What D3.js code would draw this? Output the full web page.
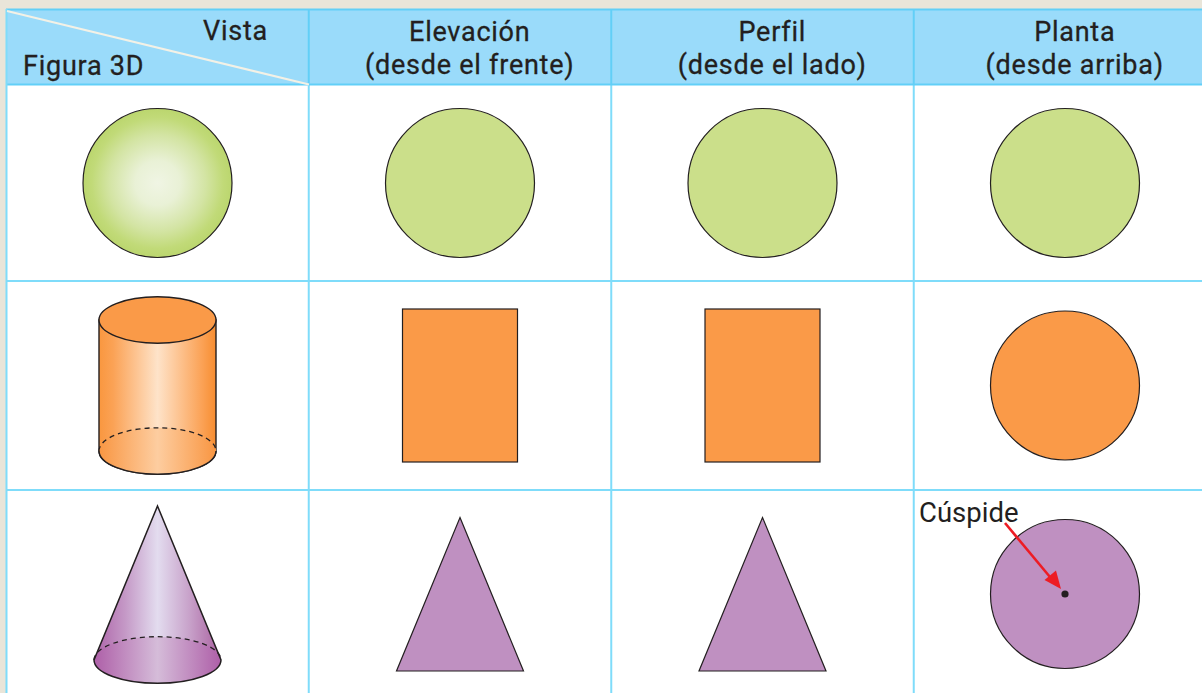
<!DOCTYPE html>
<html>
<head>
<meta charset="utf-8">
<script src="https://cdn.jsdelivr.net/npm/d3@7"></script>
<style>
html, body { margin: 0; padding: 0; background: #fff; overflow: hidden; }
svg { display: block; }
text { font-family: Roboto, sans-serif; fill: #231f20; }
</style>
</head>
<body>
<svg id="chart" width="1202" height="693"></svg>
<script>
// table content
const VIEWS = ["figura", "elevacion", "perfil", "planta"];
const HEAD_TOP = ["Elevación", "Perfil", "Planta"];
const HEAD_BOTTOM = ["(desde el frente)", "(desde el lado)", "(desde arriba)"];
const FIGURES = ["esfera", "cilindro", "cono"];
const FIG_COLOR = ["#cbdf8a", "#fa9a48", "#bf90c1"];
// what is drawn in each row, one entry per view
const ROW_SHAPES = [
    ["sphere", "circle", "circle", "circle"],
    ["cylinder", "rect", "rect", "circle"],
    ["cone", "triangle", "triangle", "circle"]
];

const WIDTH = 1202;
const HEIGHT = 693;
const LINE_COR = "#7fdcfa";
const LINE_HEAD = "#62cff7";
const HEAD_COR = "#9adbfa";
const STROKE = "#231f20";

const X_SCALE = d3.scaleBand().domain(VIEWS).range([6.25, 1216.25]);
const ROW_Y = d3.scaleOrdinal().domain(FIGURES).range([84, 281, 490]);
const CENTER_Y = d3.scaleOrdinal().domain(FIGURES).range([183, 385.5, 594]);

const R = 74.5;
const HEAD_OFFSET = 9.75; //表头文字相对列中心的偏移

const SVG = d3.select("#chart");
const defs = SVG.append("defs");

// background and header
SVG.append("rect").attr("width", WIDTH).attr("height", HEIGHT).attr("fill", "#e9e5d9");
SVG.append("rect").attr("x", 6).attr("y", 9).attr("width", WIDTH - 6).attr("height", HEIGHT - 9).attr("fill", "#fff");
SVG.append("rect").attr("x", 6).attr("y", 9).attr("width", WIDTH - 6).attr("height", 75).attr("fill", HEAD_COR);

// gradients
function hgrad(id, stops) {
    let g = defs.append("linearGradient").attr("id", id);
    stops.forEach(s => g.append("stop").attr("offset", s[0]).attr("stop-color", s[1]));
}
hgrad("cyl", [[0, "#f9973f"], [0.12, "#fba255"], [0.5, "#fee3c9"], [0.88, "#fba256"], [1, "#f78d30"]]);
hgrad("cyl_base", [[0, "#f99642"], [0.5, "#fdcda0"], [1, "#f99642"]]);
hgrad("cone", [[0, "#ad62a8"], [0.25, "#c59ac7"], [0.5, "#e3dcef"], [0.75, "#c8a2ca"], [1, "#a9609f"]]);
hgrad("cone_base", [[0, "#ae5fa8"], [0.5, "#d5bcd9"], [1, "#ae5fa8"]]);
let sph = defs.append("radialGradient").attr("id", "sph").attr("cx", 0.5).attr("cy", 0.5).attr("r", 0.5);
[[0, "#f0f5e4"], [0.3, "#e9f1d6"], [0.65, "#d3e4a3"], [0.88, "#c1da78"], [1, "#bbd66e"]].forEach(s =>
    sph.append("stop").attr("offset", s[0]).attr("stop-color", s[1]));

/** 画圆 **/
function draw_circle(cx, cy, fill) {
    SVG.append("circle").attr("cx", cx).attr("cy", cy).attr("r", R)
        .attr("fill", fill).attr("stroke", STROKE).attr("stroke-width", 1.2);
}

/** 画矩形 **/
function draw_rect(cx, cy, fill) {
    SVG.append("rect").attr("x", cx - 57.5).attr("y", cy - 76.5).attr("width", 115).attr("height", 153)
        .attr("fill", fill).attr("stroke", STROKE).attr("stroke-width", 1.2);
}

/** 画三角形 **/
function draw_triangle(cx, cy, fill) {
    let pts = [[cx, cy - 76.5], [cx + 63.5, cy + 77], [cx - 63.5, cy + 77]];
    SVG.append("path").attr("d", d3.line()(pts) + "Z")
        .attr("fill", fill).attr("stroke", STROKE).attr("stroke-width", 1.2);
}

/** 画圆柱 **/
function draw_cylinder(cx, top, bottom, fill) {
    let [rx, ry] = [58.5, 23.2];
    SVG.append("path")
        .attr("d", `M${cx - rx},${top}L${cx - rx},${bottom}A${rx},${ry} 0 0 0 ${cx + rx},${bottom}L${cx + rx},${top}Z`)
        .attr("fill", "url(#cyl)").attr("stroke", STROKE).attr("stroke-width", 1.4);
    SVG.append("path")
        .attr("d", `M${cx - rx},${bottom}A${rx},${ry} 0 0 0 ${cx + rx},${bottom}A${rx},${ry} 0 0 0 ${cx - rx},${bottom}Z`)
        .attr("fill", "url(#cyl_base)");
    SVG.append("path")
        .attr("d", `M${cx - rx},${bottom}A${rx},${ry} 0 0 0 ${cx + rx},${bottom}`)
        .attr("fill", "none").attr("stroke", STROKE).attr("stroke-width", 1.5);
    SVG.append("path")
        .attr("d", `M${cx - rx},${bottom}A${rx},${ry} 0 0 1 ${cx + rx},${bottom}`)
        .attr("fill", "none").attr("stroke", STROKE).attr("stroke-width", 1.3).attr("stroke-dasharray", "5 4");
    SVG.append("ellipse").attr("cx", cx).attr("cy", top).attr("rx", rx).attr("ry", ry)
        .attr("fill", fill).attr("stroke", STROKE).attr("stroke-width", 1.4);
}

/** 画圆锥 **/
function draw_cone(cx, apex, base) {
    let [rx, ry] = [63.5, 23.3];
    SVG.append("path")
        .attr("d", `M${cx},${apex}L${cx + rx},${base}A${rx},${ry} 0 0 1 ${cx - rx},${base}Z`)
        .attr("fill", "url(#cone)");
    SVG.append("ellipse").attr("cx", cx).attr("cy", base).attr("rx", rx).attr("ry", ry)
        .attr("fill", "url(#cone_base)");
    SVG.append("path")
        .attr("d", `M${cx},${apex}L${cx + rx},${base}A${rx},${ry} 0 0 1 ${cx - rx},${base}Z`)
        .attr("fill", "none").attr("stroke", STROKE).attr("stroke-width", 1.5);
    SVG.append("path")
        .attr("d", `M${cx - rx},${base}A${rx},${ry} 0 0 1 ${cx + rx},${base}`)
        .attr("fill", "none").attr("stroke", STROKE).attr("stroke-width", 1.3).attr("stroke-dasharray", "5 4");
}

// shapes of the table
FIGURES.forEach((fig, i) => {
    let cy = CENTER_Y(fig);
    let fill = FIG_COLOR[i];
    VIEWS.forEach((view, j) => {
        let cx = X_SCALE(view) + X_SCALE.bandwidth() / 2;
        let shape = ROW_SHAPES[i][j];
        if (shape === "sphere") draw_circle(cx, cy, "url(#sph)");
        if (shape === "circle") draw_circle(cx, cy, fill);
        if (shape === "rect") draw_rect(cx, cy, fill);
        if (shape === "triangle") draw_triangle(cx, cy, fill);
        if (shape === "cylinder") draw_cylinder(cx, 320, 451, fill);
        if (shape === "cone") draw_cone(cx, 506, 660);
    });
});

// grid lines
VIEWS.slice(1).forEach(view => {
    SVG.append("line").attr("x1", X_SCALE(view)).attr("x2", X_SCALE(view))
        .attr("y1", 84).attr("y2", HEIGHT).attr("stroke", LINE_COR).attr("stroke-width", 2);
    SVG.append("line").attr("x1", X_SCALE(view)).attr("x2", X_SCALE(view))
        .attr("y1", 9).attr("y2", 84).attr("stroke", LINE_HEAD).attr("stroke-width", 2);
});
FIGURES.slice(1).forEach(fig => {
    SVG.append("line").attr("x1", 6).attr("x2", WIDTH)
        .attr("y1", ROW_Y(fig)).attr("y2", ROW_Y(fig)).attr("stroke", LINE_COR).attr("stroke-width", 2);
});
SVG.append("line").attr("x1", 6).attr("x2", WIDTH).attr("y1", 84.5).attr("y2", 84.5).attr("stroke", LINE_HEAD).attr("stroke-width", 2);
SVG.append("line").attr("x1", 6).attr("x2", WIDTH).attr("y1", 9.5).attr("y2", 9.5).attr("stroke", LINE_HEAD).attr("stroke-width", 2);
SVG.append("line").attr("x1", 6.5).attr("x2", 6.5).attr("y1", 9).attr("y2", HEIGHT).attr("stroke", LINE_COR).attr("stroke-width", 2);

// white-ish diagonal of the first header cell
SVG.append("line").attr("x1", 7).attr("y1", 11).attr("x2", 309).attr("y2", 84.5)
    .attr("stroke", "#f3f1e6").attr("stroke-width", 2);

/** 表头文字 **/
function head_text(str, x, y, anchor = "middle") {
    SVG.append("text").text(str).attr("x", x).attr("y", y)
        .attr("text-anchor", anchor)
        .attr("font-size", 27).attr("font-weight", 400).attr("letter-spacing", 0.75)
        .attr("stroke", "#231f20").attr("stroke-width", 0.3);
}
head_text("Vista", 268, 39.5, "end");
head_text("Figura 3D", 23, 75, "start");
VIEWS.slice(1).forEach((view, j) => {
    let cx = X_SCALE(view) + X_SCALE.bandwidth() / 2 + HEAD_OFFSET;
    head_text(HEAD_TOP[j], cx, 41);
    head_text(HEAD_BOTTOM[j], cx, 73.5);
});

// cusp label, arrow and dot
const CUSP_X = X_SCALE("planta") + X_SCALE.bandwidth() / 2;
const CUSP_Y = CENTER_Y("cono");
SVG.append("text").text("Cúspide").attr("x", 919).attr("y", 522)
    .attr("font-size", 27.5).attr("font-weight", 400);
SVG.append("line").attr("x1", 1005).attr("y1", 523).attr("x2", 1050).attr("y2", 577)
    .attr("stroke", "#ed1c24").attr("stroke-width", 2.6);
SVG.append("path").attr("d", "M1061,589L1044.5,580L1056,570.5Z").attr("fill", "#ed1c24");
SVG.append("circle").attr("cx", CUSP_X).attr("cy", CUSP_Y).attr("r", 3.6).attr("fill", STROKE);
</script>
</body>
</html>
